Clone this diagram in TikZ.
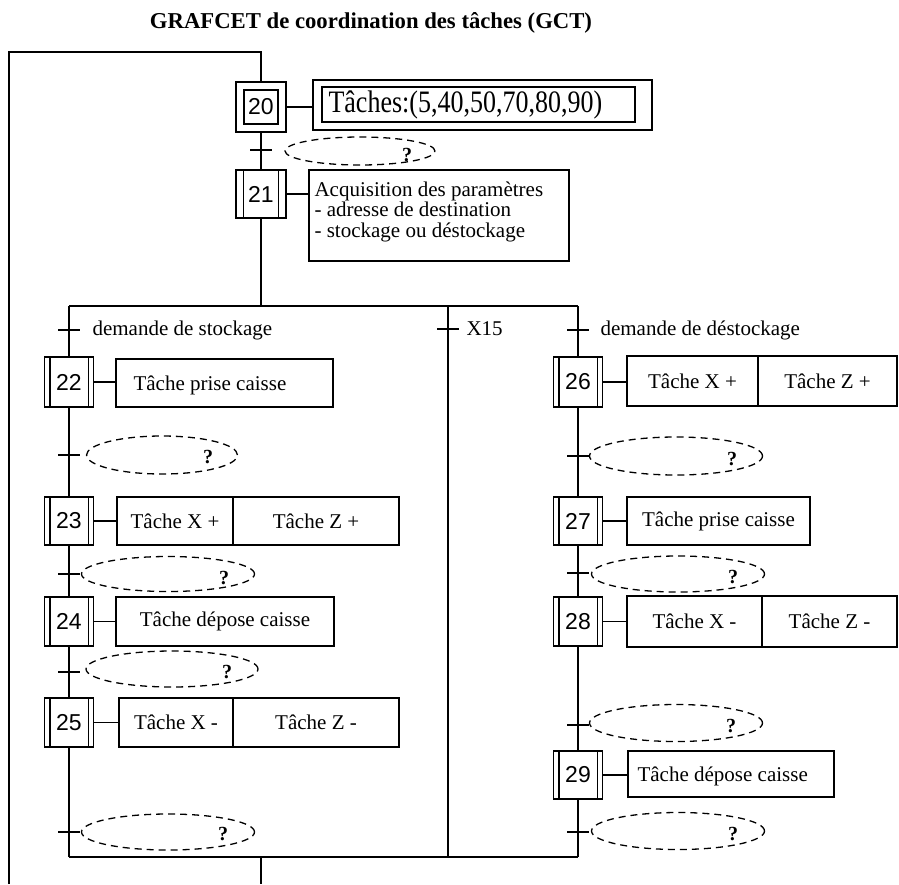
\documentclass[tikz,border=0pt]{standalone}
\usepackage{fontspec}
\setmainfont{Liberation Serif}
\newfontfamily\numfont{Liberation Sans}
\usetikzlibrary{shapes.geometric}
\begin{document}
\begin{tikzpicture}[x=1pt,y=-1pt,line width=1.1pt,
  stepbox/.style={draw, minimum width=49pt, minimum height=49pt, inner sep=0pt,
     font=\numfont\fontsize{23}{23}\selectfont},
  actbox/.style={draw, inner sep=0pt, font=\fontsize{21}{21}\selectfont},
  acttext/.style={inner sep=0pt, font=\fontsize{21}{21}\selectfont},
  cond/.style={draw, ellipse, dash pattern=on 7pt off 5pt, inner sep=0pt, line width=1.3pt},
  qmark/.style={inner sep=0pt, font=\bfseries\fontsize{20}{20}\selectfont},
  lbl/.style={anchor=west, inner sep=0pt, font=\fontsize{21}{21}\selectfont},
  tick/.style={line width=1.1pt}]
\useasboundingbox (0,0) rectangle (899,884);

% title
\node[inner sep=0pt, font=\bfseries\fontsize{22.7}{22.7}\selectfont] (title) at (371,23)
  {GRAFCET de coordination des tâches (GCT)};

% ---------- step 20 ----------
\node[stepbox, minimum width=50pt, minimum height=50pt] (s20) at (261,107) {};
\node[draw, minimum width=34pt, minimum height=34pt, inner sep=0pt,
      font=\numfont\fontsize{23}{23}\selectfont] (s20i) at (261,107) {20};
\node[draw, minimum width=339pt, minimum height=50pt, inner sep=0pt] (a20) at (482.5,105) {};
\node[draw, minimum width=313pt, minimum height=35pt, inner sep=0pt] (a20i) at (478.5,104.5) {};
\node[anchor=west, inner sep=0pt, font=\fontsize{26}{26}\selectfont] (a20t) at (328,105)
  {\scalebox{1}[1.2]{Tâches:(5,40,50,70,80,90)}};
\draw (s20.east) -- (s20.east -| a20.west);

% loop return
\coordinate (loopT) at (261,52);
\coordinate (loopL) at (9,52);
\coordinate (loopB) at (9,884);
\draw (loopB) -- (loopL) -- (loopT) -- (s20.north);

% transition 20-21
\coordinate (t1) at (261,150);
\node[cond, minimum width=150pt, minimum height=28pt] (e1) at (360,151) {};
\node[qmark] (q1) at (407,155) {?};

% ---------- step 21 ----------
\node[stepbox, minimum width=50pt, minimum height=48pt] (s21) at (261,194) {21};
\draw ([xshift=8pt]s21.north west) -- ([xshift=8pt]s21.south west);
\draw ([xshift=-8pt]s21.north east) -- ([xshift=-8pt]s21.south east);
\node[actbox, minimum width=260pt, minimum height=91pt] (a21) at (439,215.5) {};
\node[anchor=north west, align=left, inner sep=0pt,
      font=\fontsize{21}{20.5}\selectfont] (a21t) at (314,181)
  {Acquisition des paramètres\\- adresse de destination\\- stockage ou déstockage};
\draw (s21.east) -- (s21.east -| a21.west);
\draw (s20.south) -- (s21.north);
\draw[tick] ([xshift=-11pt]t1) -- ([xshift=11pt]t1);

% divergence bar
\coordinate (bm) at (261,306);
\coordinate (bl) at (69,306);
\coordinate (bx) at (448,306);
\coordinate (br) at (578,306);
\draw (s21.south) -- (bm);
\draw (bl) -- (br);

% bottom convergence bar
\coordinate (cl) at (69,857);
\coordinate (cx) at (448,857);
\coordinate (cr) at (578,857);
\coordinate (cm) at (261,857);
\coordinate (out) at (261,884);
\draw (cl) -- (cr);
\draw (cm) -- (out);

% X15 branch
\coordinate (tx) at (448,329);
\draw (bx) -- (cx);
\draw[tick] ([xshift=-11pt]tx) -- ([xshift=11pt]tx);
\node[lbl] (lx) at (466,329) {X15};

% ---------- left branch ----------
\coordinate (tl0) at (69,330);
\node[lbl] (l0) at (92,330) {demande de stockage};

\node[stepbox, minimum height=50pt] (s22) at (69,382) {22};
\node[actbox, minimum width=217pt, minimum height=48pt] (a22) at (224.5,383) {};
\node[acttext, anchor=west] (a22t) at (133,385) {Tâche prise caisse};
\draw (s22.east) -- (s22.east -| a22.west);

\coordinate (tl1) at (69,455);
\node[cond, minimum width=151pt, minimum height=38pt] (e22) at (162,455) {};
\node[qmark] (q22) at (208,457) {?};

\node[stepbox, minimum height=48pt] (s23) at (69,521) {23};
\node[actbox, minimum width=116pt, minimum height=48pt] (a23x) at (175,521) {Tâche X +};
\node[actbox, minimum width=166pt, minimum height=48pt] (a23z) at (316,521) {Tâche Z +};
\draw (s23.east) -- (a23x.west);

\coordinate (tl2) at (69,574);
\node[cond, minimum width=173pt, minimum height=35pt] (e23) at (168,574) {};
\node[qmark] (q23) at (224,578) {?};

\node[stepbox, minimum height=49pt] (s24) at (69,621.5) {24};
\node[actbox, minimum width=218pt, minimum height=49pt] (a24) at (225,621.5) {Tâche dépose caisse};
\draw (s24.east) -- (a24.west);

\coordinate (tl3) at (69,672);
\node[cond, minimum width=172pt, minimum height=36pt] (e24) at (172,669) {};
\node[qmark] (q24) at (227,672) {?};

\node[stepbox, minimum height=49pt] (s25) at (69,722.5) {25};
\node[actbox, minimum width=114pt, minimum height=49pt] (a25x) at (176,722.5) {Tâche X -};
\node[actbox, minimum width=166pt, minimum height=49pt] (a25z) at (316,722.5) {Tâche Z -};
\draw (s25.east) -- (a25x.west);

\coordinate (tl4) at (69,832);
\node[cond, minimum width=173pt, minimum height=36pt] (e25) at (168,832) {};
\node[qmark] (q25) at (223,834) {?};

\draw (bl) -- (s22.north);
\draw (s22.south) -- (s23.north);
\draw (s23.south) -- (s24.north);
\draw (s24.south) -- (s25.north);
\draw (s25.south) -- (cl);
\foreach \t in {tl0,tl1,tl2,tl3,tl4}
  \draw[tick] ([xshift=-11pt]\t) -- ([xshift=11pt]\t);
\foreach \s in {s22,s23,s24,s25}{
  \draw ([xshift=6pt]\s.north west) -- ([xshift=6pt]\s.south west);
  \draw ([xshift=-6pt]\s.north east) -- ([xshift=-6pt]\s.south east);
}

% ---------- right branch ----------
\coordinate (tr0) at (578,330);
\node[lbl] (r0) at (600,330) {demande de déstockage};

\node[stepbox, minimum height=50pt] (s26) at (578,382) {26};
\node[actbox, minimum width=131pt, minimum height=50pt] (a26x) at (692.5,381) {Tâche X +};
\node[actbox, minimum width=139pt, minimum height=50pt] (a26z) at (827.5,381) {Tâche Z +};
\draw (s26.east) -- (s26.east -| a26x.west);

\coordinate (tr1) at (578,456);
\node[cond, minimum width=173pt, minimum height=38pt] (e26) at (676,456) {};
\node[qmark] (q26) at (732,459) {?};

\node[stepbox, minimum height=48pt] (s27) at (578,521) {27};
\node[actbox, minimum width=183pt, minimum height=48pt] (a27) at (718.5,521) {Tâche prise caisse};
\draw (s27.east) -- (a27.west);

\coordinate (tr2) at (578,573);
\node[cond, minimum width=173pt, minimum height=36pt] (e27) at (678,574) {};
\node[qmark] (q27) at (733,577) {?};

\node[stepbox, minimum height=49pt] (s28) at (578,621.5) {28};
\node[actbox, minimum width=135pt, minimum height=51pt] (a28x) at (694.5,621.5) {Tâche X -};
\node[actbox, minimum width=135pt, minimum height=51pt] (a28z) at (829.5,621.5) {Tâche Z -};
\draw (s28.east) -- (a28x.west);

\coordinate (tr3) at (578,725);
\node[cond, minimum width=173pt, minimum height=37pt] (e28) at (676,723) {};
\node[qmark] (q28) at (731,726) {?};

\node[stepbox, minimum height=48pt] (s29) at (578,775) {29};
\node[actbox, minimum width=206pt, minimum height=46pt] (a29) at (731,774) {};
\node[acttext, anchor=west] (a29t) at (637,776) {Tâche dépose caisse};
\draw (s29.east) -- (s29.east -| a29.west);

\coordinate (tr4) at (578,832);
\node[cond, minimum width=173pt, minimum height=37pt] (e29) at (678,831) {};
\node[qmark] (q29) at (733,834) {?};

\draw (br) -- (s26.north);
\draw (s26.south) -- (s27.north);
\draw (s27.south) -- (s28.north);
\draw (s28.south) -- (s29.north);
\draw (s29.south) -- (cr);
\foreach \t in {tr0,tr1,tr2,tr3,tr4}
  \draw[tick] ([xshift=-11pt]\t) -- ([xshift=11pt]\t);
\foreach \s in {s26,s27,s28,s29}{
  \draw ([xshift=6pt]\s.north west) -- ([xshift=6pt]\s.south west);
  \draw ([xshift=-6pt]\s.north east) -- ([xshift=-6pt]\s.south east);
}
\end{tikzpicture}
\end{document}
